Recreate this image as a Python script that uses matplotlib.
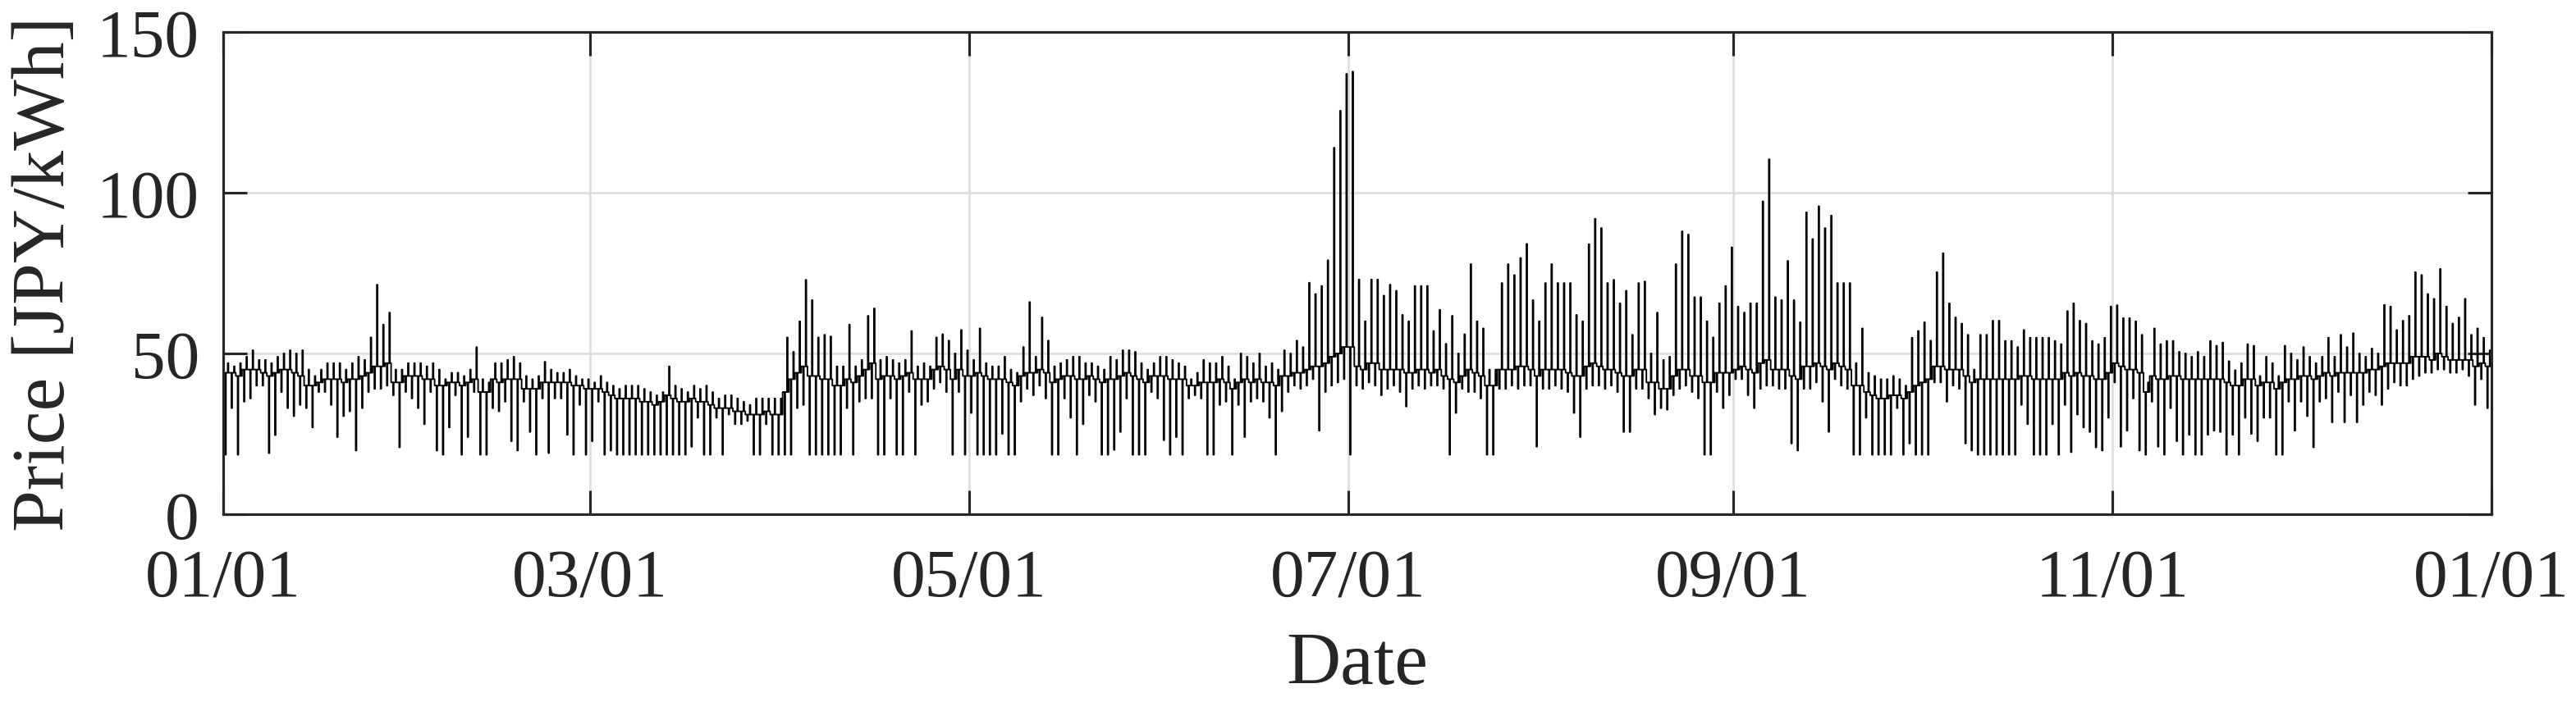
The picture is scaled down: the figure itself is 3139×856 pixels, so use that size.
import numpy as np
import matplotlib
matplotlib.use("Agg")
import matplotlib.pyplot as plt
import matplotlib.dates as mdates

plt.rcParams['font.family'] = ['Liberation Serif', 'DejaVu Serif']

# daily readings of the price trace (JPY/kWh), Jan 1 .. Dec 31, one line per month
daily_high = [
    47, 46, 47, 49, 51, 48, 48, 47, 49, 50, 51, 50, 51, 45, 43, 45, 47, 47, 47, 45, 47, 49, 48, 55, 71.4, 59, 62.7, 45, 45, 47, 47,
    47, 46, 47, 45, 42, 44, 44, 43, 45, 52, 42, 41, 47, 47, 48, 49, 47, 43, 42, 43, 47.4, 45, 44, 44, 45, 43, 42, 42,
    41, 43, 41, 40, 39, 40, 40, 40, 39, 38, 37, 38, 46, 40, 39, 38, 40, 39, 40, 38, 36, 37, 37, 36, 35, 34, 36, 36, 36, 36, 36,
    55, 50.5, 60, 72.9, 66.6, 55, 55.8, 55.3, 46, 46, 59, 46, 48, 61.7, 64, 48, 49, 48, 47, 48, 57, 46, 47, 46, 55, 56, 54, 50, 57.3, 51,
    48, 57.8, 47, 46, 46, 49, 45, 44, 52, 66, 49, 61.2, 54, 46, 47, 48, 49, 49, 47, 47, 46, 45, 49, 48, 51, 51, 50.5, 47, 45, 47, 49,
    49, 48, 47, 46, 42, 44, 48, 47, 47, 49, 46, 42, 50, 49, 47, 50, 46, 47, 45, 51, 50, 54, 52, 72, 68.5, 71, 79, 114, 125.5, 137,
    137.7, 73, 60, 73, 73, 68, 71.4, 69.5, 62, 60, 71, 71, 71, 57, 63.6, 53, 61.7, 50, 56, 77.8, 60, 57.8, 45, 45, 71.9, 77.8, 74.4, 79.7, 84.1, 66.6, 60,
    71.9, 77.8, 71.9, 71.9, 71.9, 62, 60, 84, 91.9, 89, 71.9, 72.9, 65.6, 69.5, 55.8, 71.9, 72.4, 50, 62.7, 48, 49, 77.8, 88, 87, 67.5, 67.5, 60, 55, 65.6, 71, 83,
    64.6, 62.7, 65.6, 65.6, 97.3, 110.4, 67.5, 66.6, 78.8, 66.6, 59.7, 93.9, 85.6, 95.8, 89, 92.9, 71.9, 71.9, 71.9, 47, 57.8, 44, 43, 42, 42, 43, 42, 40, 54.9, 57,
    59.7, 54, 75.3, 81.2, 65.6, 61.2, 59.3, 55.8, 45, 55.8, 55.8, 60.2, 60.2, 53.9, 53.9, 52, 57.3, 54.9, 54.9, 54.9, 54.9, 53.9, 52.9, 63.2, 65.6, 60.2, 59.3, 53.9, 52.9, 54.9, 64.6,
    65, 61, 61, 60, 55.8, 41, 57.8, 52.9, 53.9, 53.9, 50.5, 50, 49, 50.5, 49, 53.9, 52.4, 53.4, 47.6, 44.8, 47, 52.9, 52.4, 43, 49, 47, 43, 52.4, 50, 48,
    52, 49, 47, 49, 54.9, 49, 55.8, 52, 56.3, 50, 49, 51.5, 50, 65.1, 64.6, 57.3, 60.2, 61.7, 75.3, 74.4, 68.5, 67, 76.3, 64.6, 59.3, 61.2, 67, 55.8, 57.8, 54.9, 51,
]
daily_low = [
    18.5, 33, 18.5, 35, 36, 40, 40, 19, 24.6, 38, 33, 30.5, 34, 33, 27, 38, 38, 34, 24, 30.5, 32, 19.8, 33, 38, 39, 39, 40, 37, 20.8, 38, 36,
    33, 28, 38, 19.8, 18.5, 27, 37, 18.5, 24, 38, 18.5, 18.5, 33, 32, 35, 22.7, 19.8, 35, 25.6, 18.5, 36, 19, 36, 36, 24.7, 18.5, 34, 18.5,
    22.7, 35, 18.5, 19.8, 18.5, 18.5, 18.5, 18.5, 18.5, 18.5, 18.5, 18.5, 18.5, 18.5, 18.5, 18.5, 21, 30, 18.5, 18.5, 30, 18.5, 31, 28, 28, 29, 18.5, 18.5, 28, 18.5, 18.5,
    18.5, 18.5, 33, 34, 18.5, 18.5, 18.5, 18.5, 18.5, 18.5, 33, 18.5, 35, 36, 36, 18.5, 18.5, 36, 18.5, 18.5, 38, 18.5, 34, 35, 39, 41, 38, 18.5, 38, 18.5,
    31.5, 18.5, 18.5, 18.5, 18.5, 25, 18.5, 18.5, 35, 39, 37, 40, 36, 18.5, 18.5, 36, 30, 18.5, 28, 37, 35, 18.5, 18.5, 20, 25.6, 36, 18.5, 18.5, 18.5, 38, 36,
    23, 18.5, 24, 18.5, 36, 37, 36, 18.5, 18.5, 34, 35, 18.5, 34, 24, 35, 36, 35, 30, 18.5, 32, 38, 40, 39, 40, 42, 26, 38, 40, 41, 42,
    18.5, 40, 39, 41, 40, 37, 39, 40, 38, 33.5, 39, 40, 39, 40, 40, 39, 18.5, 31.5, 39, 38, 38, 36, 18.5, 18.5, 39, 39, 40, 39, 40, 40, 21,
    39, 39, 40, 39, 38, 31.5, 24, 39, 40, 40, 39, 40, 38, 25.6, 25.6, 39, 39, 36, 31, 33, 32.5, 37, 39, 40, 38, 36, 18.5, 18.5, 38, 33, 37,
    42, 42, 37, 33, 39, 40, 40, 39, 39, 22, 19.8, 39, 39, 41, 35, 25.6, 42, 40, 39, 18.5, 18.5, 30, 18.5, 18.5, 18.5, 18.5, 33, 18.5, 22, 18.5,
    18.5, 18.5, 41, 41, 35, 40, 39, 22, 19.8, 18.5, 18.5, 18.5, 18.5, 18.5, 18.5, 18.5, 34, 28, 18.5, 18.5, 18.5, 28, 18.5, 34, 19.3, 31, 27, 25.6, 20.8, 19.8, 30,
    41, 21, 26, 36, 19.8, 18.5, 35, 21, 18.5, 33, 22.7, 18.5, 24.7, 18.5, 18.5, 24.7, 26, 25.6, 18.5, 24.7, 18.5, 30, 25, 22.7, 30, 30, 18.5, 18.5, 35, 26,
    35, 30.5, 20.8, 35, 36, 28.6, 38, 28.6, 37, 28.6, 34, 38, 37, 34, 39, 41, 40, 40, 42, 43, 44, 44, 45, 45, 44, 44, 45, 43, 34, 42, 33,
]
daily_base = [
    44, 44, 43, 45, 45, 45, 44, 43, 44, 45, 45, 44, 43, 40, 40, 41, 42, 42, 42, 41, 42, 42, 43, 44, 46, 46, 47, 41, 41, 43, 43,
    43, 42, 42, 40, 40, 41, 41, 40, 41, 42, 38, 38, 42, 41, 42, 42, 42, 39, 39, 39, 41, 41, 41, 41, 41, 40, 40, 39,
    39, 39, 38, 37, 36, 36, 36, 36, 35, 35, 34, 35, 37, 36, 35, 35, 36, 35, 35, 34, 33, 33, 33, 32, 32, 31, 31, 31, 32, 31, 31,
    38, 42, 44, 46, 43, 43, 42, 42, 40, 40, 42, 41, 43, 45, 47, 42, 43, 43, 42, 43, 44, 42, 42, 42, 45, 46, 45, 42, 45, 43,
    43, 44, 43, 42, 42, 42, 41, 40, 43, 44, 44, 45, 44, 41, 42, 43, 43, 42, 42, 43, 42, 41, 42, 42, 43, 44, 43, 42, 41, 43, 43,
    43, 42, 42, 42, 40, 40, 41, 41, 41, 42, 41, 39, 41, 42, 41, 42, 41, 41, 40, 43, 43, 44, 44, 45, 46, 46, 47, 49, 50, 52,
    52, 46, 45, 47, 47, 45, 45, 45, 45, 44, 44, 45, 45, 44, 45, 43, 42, 41, 43, 45, 44, 43, 40, 40, 45, 45, 45, 46, 46, 45, 43,
    45, 45, 45, 45, 44, 43, 43, 46, 47, 46, 45, 45, 44, 43, 43, 45, 45, 41, 41, 39, 39, 43, 45, 45, 43, 43, 41, 41, 44, 44, 44,
    45, 46, 45, 44, 47, 48, 45, 45, 45, 43, 42, 46, 46, 47, 46, 45, 47, 46, 45, 40, 40, 38, 37, 36, 36, 37, 37, 36, 38, 40,
    41, 42, 46, 46, 45, 45, 45, 43, 41, 42, 42, 42, 42, 42, 42, 42, 43, 43, 42, 42, 42, 42, 42, 44, 43, 44, 43, 43, 42, 42, 44,
    47, 46, 45, 45, 44, 38, 43, 42, 42, 43, 43, 42, 42, 42, 42, 42, 42, 42, 41, 40, 40, 42, 42, 40, 41, 41, 39, 41, 42, 42,
    43, 43, 42, 43, 44, 43, 44, 44, 44, 44, 44, 45, 45, 46, 47, 47, 47, 47, 49, 49, 49, 48, 50, 49, 48, 48, 48, 48, 46, 47, 46,
]

tick_dates = ['2022-01-01', '2022-03-01', '2022-05-01', '2022-07-01',
              '2022-09-01', '2022-11-01', '2023-01-01']
tick_labels = ['01/01', '03/01', '05/01', '07/01', '09/01', '11/01', '01/01']
y_ticks = [0, 50, 100, 150]

hi = np.array(daily_high, dtype=float)
lo = np.array(daily_low, dtype=float)
base = np.array(daily_base, dtype=float)
n = len(hi)

start = mdates.datestr2num(tick_dates[0])
# per day: base, low, base, high, base, drawn as short steps
t = start + np.repeat(np.arange(n), 5) + np.tile([0.0, 0.3, 0.42, 0.7, 0.82], n)
y = np.column_stack([base, lo, base, hi, base]).ravel()
t = np.append(t, start + n)
y = np.append(y, base[-1])

ink = '#262626'
fig = plt.figure(figsize=(3139 / 300, 857 / 300), dpi=300)
ax = fig.add_axes([0.0867, 0.2672, 0.8805, 0.6861])
ax.plot(t, y, color='black', lw=0.45, drawstyle='steps-post')

ax.set_xlim(start, start + n)
ax.set_ylim(0, 150)
ax.set_yticks(y_ticks)
ax.set_xticks([mdates.datestr2num(s) for s in tick_dates])
ax.set_xticklabels(tick_labels)
ax.grid(True, color='#dcdcdc', lw=0.6)
ax.set_axisbelow(True)
ax.tick_params(direction='in', length=7, width=0.75, top=True, right=True,
               labelsize=20, colors=ink)
ax.tick_params(axis='x', pad=10)
ax.tick_params(axis='y', pad=7)
for s in ax.spines.values():
    s.set_linewidth(0.75)
    s.set_color(ink)

ax.set_xlabel('Date', fontsize=22, color=ink, labelpad=6)
ax.set_ylabel('Price [JPY/kWh]', fontsize=22, color=ink, labelpad=5)

fig.savefig('out.png', dpi=300)
